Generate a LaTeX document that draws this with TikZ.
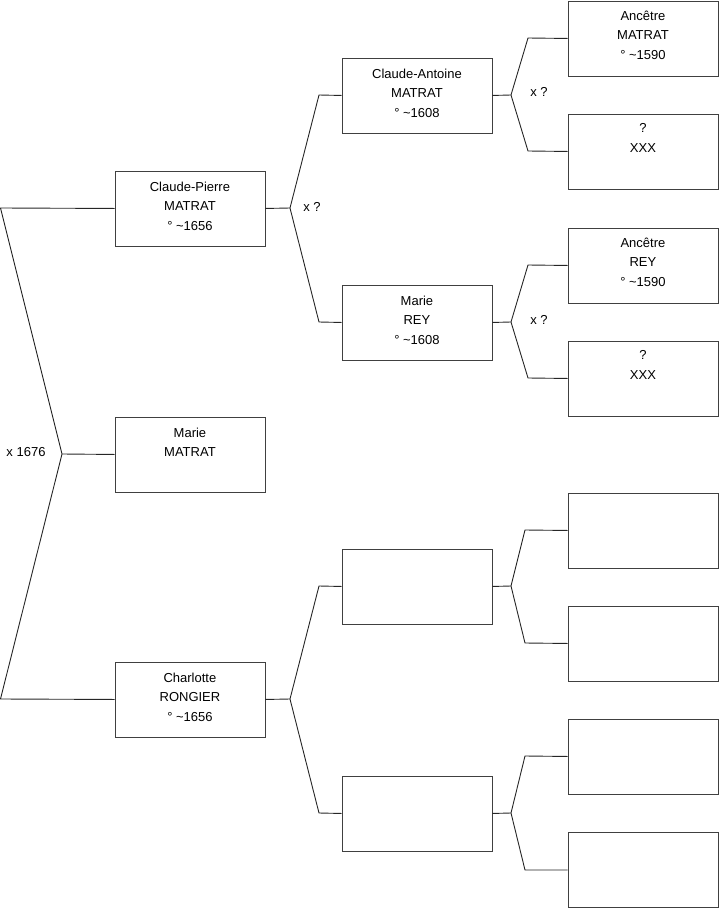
\documentclass[tikz,border=0pt]{standalone}
\usepackage{fontspec}
\setmainfont{Liberation Sans}
\begin{document}
\begin{tikzpicture}[x=1pt,y={(0pt,-1pt)},
  person/.style={draw=black!75,line width=0.9pt,minimum width=150pt,minimum height=75pt,inner sep=0pt,anchor=north west},
  txt/.style={anchor=north,align=center,font=\fontsize{13}{19.5}\selectfont,inner sep=0pt},
  link/.style={draw=black!85,line width=0.9pt},
  lbl/.style={font=\fontsize{13}{15}\selectfont,inner sep=0pt}]
\useasboundingbox (0,0) rectangle (719,908);
% column 1
\node[person] (cp) at (114.5,170.5) {};
\node[person] (mm) at (114.5,416.5) {};
\node[person] (cr) at (114.5,661.5) {};
% column 2
\node[person] (ca) at (341.5,57.5) {};
\node[person] (mr) at (341.5,284.5) {};
\node[person] (e1) at (341.5,548.5) {};
\node[person] (e2) at (341.5,775.5) {};
% column 3
\node[person] (am) at (567.5,0.5) {};
\node[person] (x1) at (567.5,113.5) {};
\node[person] (ar) at (567.5,227.5) {};
\node[person] (x2) at (567.5,340.5) {};
\node[person] (e3) at (567.5,492.5) {};
\node[person] (e4) at (567.5,605.5) {};
\node[person] (e5) at (567.5,718.5) {};
\node[person] (e6) at (567.5,832) {};
% texts
\node[txt] (tcp) at ([yshift=-11pt]cp.north) {Claude-Pierre\\MATRAT\\° \char`~1656};
\node[txt] (tmm) at ([yshift=-11pt]mm.north) {Marie\\MATRAT};
\node[txt] (tcr) at ([yshift=-11pt]cr.north) {Charlotte\\RONGIER\\° \char`~1656};
\node[txt] (tca) at ([yshift=-11pt]ca.north) {Claude-Antoine\\MATRAT\\° \char`~1608};
\node[txt] (tmr) at ([yshift=-11pt]mr.north) {Marie\\REY\\° \char`~1608};
\node[txt] (tam) at ([yshift=-10pt]am.north) {Ancêtre\\MATRAT\\° \char`~1590};
\node[txt] (tx1) at ([yshift=-10pt]x1.north) {?\\XXX};
\node[txt] (tar) at ([yshift=-10pt]ar.north) {Ancêtre\\REY\\° \char`~1590};
\node[txt] (tx2) at ([yshift=-10pt]x2.north) {?\\XXX};
% fork coordinates
\coordinate (f0a) at (0.5,208);
\coordinate (f0) at (62,454);
\coordinate (f0b) at (0.5,699);
\coordinate (f1) at (290,208);
\coordinate (f1a) at (319,95);
\coordinate (f1b) at (319,322);
\coordinate (f2) at (290,699);
\coordinate (f2a) at (319,586);
\coordinate (f2b) at (319,813);
\coordinate (f3) at (511,95);
\coordinate (f3a) at (528,38);
\coordinate (f3b) at (528,151);
\coordinate (f4) at (511,322);
\coordinate (f4a) at (528,265);
\coordinate (f4b) at (528,378);
\coordinate (f5) at (511,586);
\coordinate (f5a) at (525,530);
\coordinate (f5b) at (525,643);
\coordinate (f6) at (511,813);
\coordinate (f6a) at (525,756);
\coordinate (f6b) at (525,870);
% connectors
\draw[link] (cp.west) -- (f0a) -- (f0) -- (f0b) -- (cr.west);
\draw[link] (f0) -- (mm.west);
\draw[link] (cp.east) -- (f1);
\draw[link] (ca.west) -- (f1a) -- (f1) -- (f1b) -- (mr.west);
\draw[link] (cr.east) -- (f2);
\draw[link] (e1.west) -- (f2a) -- (f2) -- (f2b) -- (e2.west);
\draw[link] (ca.east) -- (f3);
\draw[link] (am.west) -- (f3a) -- (f3) -- (f3b) -- (x1.west);
\draw[link] (mr.east) -- (f4);
\draw[link] (ar.west) -- (f4a) -- (f4) -- (f4b) -- (x2.west);
\draw[link] (e1.east) -- (f5);
\draw[link] (e3.west) -- (f5a) -- (f5) -- (f5b) -- (e4.west);
\draw[link] (e2.east) -- (f6);
\draw[link] (e5.west) -- (f6a) -- (f6) -- (f6b) -- (e6.west);
% marriage labels
\node[lbl] (m0) at (26,452) {x 1676};
\node[lbl] (m1) at (312,207) {x ?};
\node[lbl] (m3) at (539,92) {x ?};
\node[lbl] (m4) at (539,320) {x ?};
\end{tikzpicture}
\end{document}
